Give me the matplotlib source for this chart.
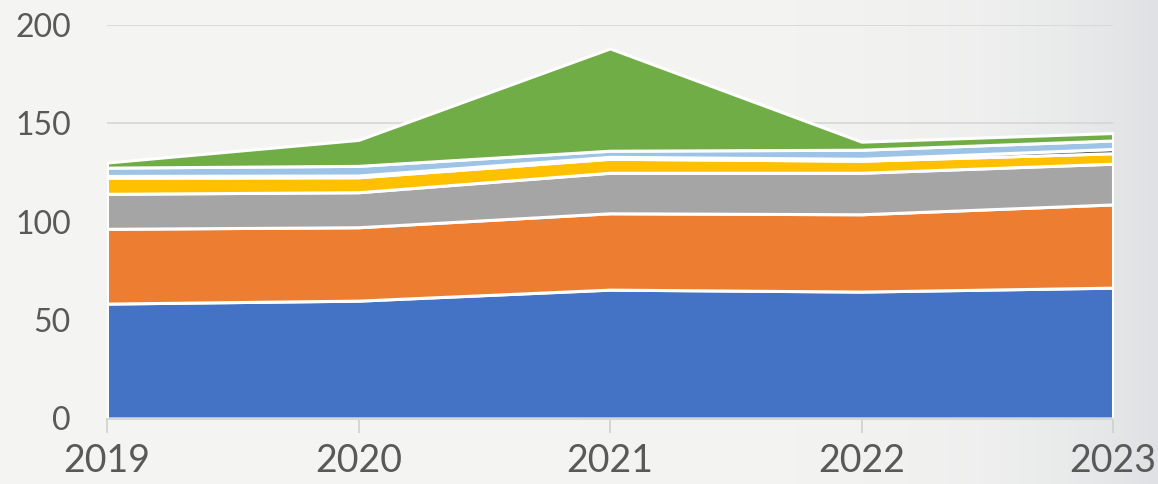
import matplotlib
matplotlib.use("Agg")
import matplotlib.pyplot as plt
import numpy as np

# data (stacked layers, bottom to top)
years = [2019, 2020, 2021, 2022, 2023]
blue = [58.4, 59.9, 65.5, 64.5, 66.5]
orange = [38.0, 37.3, 38.8, 39.3, 42.3]
gray = [17.8, 17.8, 20.6, 21.1, 20.7]
yellow = [8.2, 7.6, 7.1, 6.1, 5.3]
dark = [0.9, 0.9, 1.0, 1.0, 2.2]
lightblue = [4.2, 4.9, 3.1, 4.6, 4.3]
green = [2.6, 13.2, 52.0, 4.1, 3.8]

colors = ["#4472C4", "#ED7D31", "#A5A5A5", "#FFC000", "#606060", "#9DC3E6", "#70AD47"]
yticks = [0, 50, 100, 150, 200]

plt.rcParams["font.family"] = ["Lato", "DejaVu Sans"]

fig = plt.figure(figsize=(11.58, 4.84), dpi=100)
fig.patch.set_facecolor("#f3f3f1")

# soft background wash (decoration only)
bg = fig.add_axes([0, 0, 1, 1], zorder=-1)
grad = np.linspace(0, 1, 256) ** 8
bg.imshow(np.vstack([grad, grad]), aspect="auto", cmap=matplotlib.colors.LinearSegmentedColormap.from_list(
    "bg", ["#f4f4f2", "#dfe1e4"]), extent=[0, 1, 0, 1])
bg.axis("off")

ax = fig.add_axes([107 / 1158, 1 - 418.5 / 484, (1113 - 107) / 1158, (418.5 - 25) / 484])
ax.set_facecolor("none")

ax.stackplot(years, blue, orange, gray, yellow, dark, lightblue, green,
             colors=colors, edgecolor="white", linewidth=2.2, zorder=3)

ax.set_xlim(2019, 2023)
ax.set_ylim(0, 200)
ax.set_xticks(years)
ax.set_xticklabels([str(y) for y in years], fontsize=27, color="#595959")
ax.set_yticks(yticks)
ax.set_yticklabels([str(v) for v in yticks], fontsize=23, color="#595959")
ax.tick_params(axis="y", length=0, pad=26)
ax.tick_params(axis="x", length=10, width=1.2, color="#d0d0d0", pad=8)

ax.grid(axis="y", color="#d6d6d6", linewidth=1.2, zorder=0)
for side in ("top", "right", "left"):
    ax.spines[side].set_visible(False)
ax.spines["bottom"].set_color("#d0d0d0")
ax.spines["bottom"].set_linewidth(1.2)
ax.spines["bottom"].set_zorder(4)

fig.savefig("out.png", dpi=100, facecolor=fig.get_facecolor())
